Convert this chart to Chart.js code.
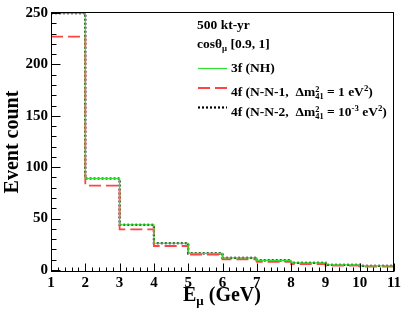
<!DOCTYPE html>
<html>
<head>
<meta charset="utf-8">
<script src="https://cdn.jsdelivr.net/npm/chart.js@4/dist/chart.umd.min.js"></script>
<style>
  body { margin: 0; background: #fff; }
  #wrap { position: relative; width: 407px; height: 315px; font-family: 'Liberation Serif', 'Times New Roman', serif; font-weight: bold; color: #000; }
  #wrap canvas { position: absolute; left: 0; top: 0; }
  .lbl { position: absolute; white-space: nowrap; font-size: 13.5px; line-height: 16px; }
  .ttl { position: absolute; white-space: nowrap; font-size: 20px; line-height: 22px; }
  .sb { font-size: 0.65em; vertical-align: -0.3em; }
  .sp { font-size: 0.65em; vertical-align: 0.55em; }
  .stk { display: inline-block; vertical-align: -0.4em; line-height: 0.8em; font-size: 0.62em; text-align: left; }
  .stk span { display: block; }
  #ytitle { left: -89px; top: 131px; width: 200px; text-align: center; transform: rotate(-90deg); }
</style>
</head>
<body>
<div id="wrap">
  <canvas id="histChart" width="407" height="315"></canvas>
  <div class="lbl" style="left:197px; top:17px;">500 kt-yr</div>
  <div class="lbl" style="left:197px; top:36px;">cosθ<span class="sb">μ</span> [0.9, 1]</div>
  <div class="lbl" style="left:231px; top:60px;">3f (NH)</div>
  <div class="lbl" style="left:231px; top:80px;">4f (N-N-1,&nbsp; Δm<span class="stk"><span>2</span><span>41</span></span> = 1 eV<span class="sp">2</span>)</div>
  <div class="lbl" style="left:231px; top:100px;">4f (N-N-2,&nbsp; Δm<span class="stk"><span>2</span><span>41</span></span> = 10<span class="sp">-3</span> eV<span class="sp">2</span>)</div>
  <div class="ttl" style="left:183px; top:283px;">E<span class="sb">μ</span> (GeV)</div>
  <div class="ttl" id="ytitle">Event count</div>
</div>
<script>
// bin edges in GeV
const binEdges = [1, 2, 3, 4, 5, 6, 7, 8, 9, 10, 11];

// event counts per bin
const nh3f   = [250, 89, 44, 26, 16.2, 11.7, 9.4, 6.8, 4.9, 3.9];
const nnOne  = [227, 82, 39.5, 23.3, 14.9, 10.4, 7.8, 5.8, 4.2, 3.2];
const nnTwo  = [250, 89, 44, 26, 16.2, 11.7, 9.4, 6.8, 4.9, 3.9];

// axis ticks
const xTickValues = [1, 2, 3, 4, 5, 6, 7, 8, 9, 10, 11];
const yTickValues = [0, 50, 100, 150, 200, 250];
const xMinorStep = 0.2;
const yMinorStep = 10;

const toSteps = vals => binEdges.map((e, i) => ({ x: e, y: vals[Math.min(i, vals.length - 1)] }));

const ctx = document.getElementById('histChart').getContext('2d');

Chart.defaults.font.family = "'Liberation Serif', 'Times New Roman', serif";
Chart.defaults.font.weight = 'bold';
Chart.defaults.font.size = 15;
Chart.defaults.color = '#000';

const rootFrame = {
    id: 'rootFrame',
    afterDraw(chart) {
        const { ctx, chartArea: a, scales: { x, y } } = chart;
        ctx.save();
        ctx.strokeStyle = '#000';
        ctx.lineWidth = 1;
        ctx.setLineDash([]);
        ctx.beginPath();

        // x ticks, inside the frame
        const b = Math.round(a.bottom) - 0.5;
        for (let v = binEdges[0]; v <= binEdges[binEdges.length - 1] + 1e-6; v += xMinorStep) {
            const major = Math.abs(v - Math.round(v)) < 1e-6;
            const px = Math.round(x.getPixelForValue(v)) + 0.5;
            ctx.moveTo(px, b);
            ctx.lineTo(px, b - (major ? 8 : 4));
        }
        // y ticks
        const l = Math.round(a.left) + 0.5;
        for (let v = 0; v <= y.max + 1e-6; v += yMinorStep) {
            const major = v % 50 === 0;
            const py = Math.round(y.getPixelForValue(v)) + 0.5;
            ctx.moveTo(l, py);
            ctx.lineTo(l + (major ? 9 : 5), py);
        }
        ctx.stroke();

        ctx.strokeRect(Math.round(a.left) + 0.5, Math.round(a.top) + 0.5,
            Math.round(a.right - a.left) - 1, Math.round(a.bottom - a.top) - 1);

        // legend samples
        const rows = [68.5, 88, 107.5];
        chart.data.datasets.forEach((ds, i) => {
            ctx.beginPath();
            ctx.strokeStyle = ds.borderColor;
            ctx.lineWidth = ds.borderWidth;
            ctx.setLineDash(ds.borderDash || []);
            ctx.moveTo(198, rows[i]);
            ctx.lineTo(227, rows[i]);
            ctx.stroke();
        });
        ctx.restore();
    }
};

const histChart = new Chart(ctx, {
    type: 'line',
    data: {
        datasets: [
            {
                label: '3f (NH)',
                data: toSteps(nh3f),
                borderColor: '#33dd33',
                borderWidth: 1.2,
                stepped: 'before',
                pointRadius: 0,
                fill: false,
            },
            {
                label: '4f (N-N-1)',
                data: toSteps(nnOne),
                borderColor: '#ff4444',
                borderWidth: 1.8,
                borderDash: [12, 5],
                stepped: 'before',
                pointRadius: 0,
                fill: false,
            },
            {
                label: '4f (N-N-2)',
                data: toSteps(nnTwo),
                borderColor: '#000',
                borderWidth: 2.2,
                borderDash: [2, 2],
                stepped: 'before',
                pointRadius: 0,
                fill: false,
            }
        ]
    },
    options: {
        responsive: false,
        animation: false,
        layout: { padding: { top: 12, right: 13, left: 0, bottom: 0 } },
        plugins: { legend: { display: false }, tooltip: { enabled: false } },
        scales: {
            x: {
                type: 'linear',
                min: 1,
                max: 11,
                grid: { display: false, drawTicks: false },
                border: { display: false },
                ticks: { padding: 2, autoSkip: false, maxRotation: 0 },
                afterBuildTicks: s => { s.ticks = xTickValues.map(v => ({ value: v })); },
                afterFit: s => { s.height = 43; }
            },
            y: {
                min: -2,
                max: 251,
                grid: { display: false, drawTicks: false },
                border: { display: false },
                ticks: { padding: 3 },
                afterBuildTicks: s => { s.ticks = yTickValues.map(v => ({ value: v })); },
                afterFit: s => { s.width = 51; }
            }
        }
    },
    plugins: [rootFrame]
});
</script>
</body>
</html>
